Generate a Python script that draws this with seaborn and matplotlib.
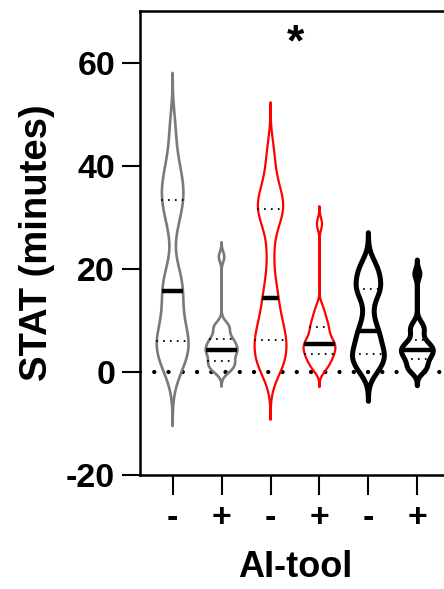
import numpy as np
import pandas as pd
import matplotlib
matplotlib.use("Agg")
import matplotlib.pyplot as plt
import seaborn as sns

# ---------------- data ----------------
categories = ["Gray -", "Gray +", "Red -", "Red +", "Black -", "Black +"]
tick_labels = ["-", "+", "-", "+", "-", "+"]

gray_minus = [0, 1.5, 3, 4, 5, 5.6, 6.2, 7.5, 9, 11, 13, 15,
              16.4, 18, 19.5, 28, 31, 33, 34, 35.5, 37, 39, 42, 47.5]
gray_plus = [0, 0.5, 1, 1.5, 2, 2.2, 3, 3.5, 4, 4.2, 4.4, 5, 5.5, 6, 6.2,
             7, 8, 8.7, 9.3, 22.3]
red_minus = [0, 1, 2, 3, 4, 5, 6.5, 7, 8, 9.5, 11, 13.5, 15,
             18, 23, 28, 30, 31.4, 32, 33, 34, 36, 39, 43]
red_plus = [0.5, 1, 2, 2.5, 3, 3.5, 4, 4.5, 5, 5.2, 5.8, 6, 7, 7.5, 8.5,
            9, 10, 11, 12.5, 28.7]
black_minus = [0, 0.5, 1.5, 2, 2.8, 3.2, 3.5, 4.2, 5, 6, 7, 7.5,
               8.3, 10, 12, 14.5, 15.5, 16, 16.5, 17.5, 18.5, 19.3, 20.2, 21.3]
black_plus = [0, 0.5, 1, 1.5, 2.2, 2.6, 3, 3.5, 3.8, 4, 4.4, 4.8, 5, 5.5,
              6, 7, 8, 8.5, 9.5, 19]

group_values = [gray_minus, gray_plus, red_minus, red_plus, black_minus, black_plus]

yticks = [-20, 0, 20, 40, 60]

# ---------------- style ----------------
colors = ["#7a7a7a", "#7a7a7a", "#ff0000", "#ff0000", "#000000", "#000000"]
outline_lw = [1.9, 1.9, 1.6, 1.6, 3.6, 3.6]
target_bw = [3.5, 0.95, 3.1, 1.15, 1.9, 0.9]

sns.set_theme(style="ticks")
plt.rcParams["font.family"] = ["Liberation Sans", "DejaVu Sans"]
plt.rcParams["font.weight"] = "bold"
plt.rcParams["axes.unicode_minus"] = False

df = pd.DataFrame({
    "group": np.concatenate([[c] * len(v) for c, v in zip(categories, group_values)]),
    "value": np.concatenate([np.asarray(v, float) for v in group_values]),
})

fig = plt.figure(figsize=(4.44, 5.89), dpi=100)
ax = fig.add_axes([140 / 444, 1 - 475 / 589, 310 / 444, 464 / 589])

ax.axhline(0, color="black", lw=3.1, ls=(0, (0.01, 3.3)),
           dash_capstyle="round", zorder=1)

for i, cat in enumerate(categories):
    sub = df[df["group"] == cat]
    vals = sub["value"].to_numpy()
    scott = len(vals) ** (-1 / 5) * vals.std(ddof=1)
    adj = target_bw[i] / scott
    n_before = len(ax.lines)
    sns.violinplot(data=sub, x="group", y="value", order=categories,
                   color=colors[i], fill=False, linewidth=outline_lw[i],
                   inner="quart", inner_kws=dict(color="black"),
                   density_norm="width", width=0.65, cut=3,
                   bw_adjust=adj, ax=ax, zorder=2)
    new_lines = ax.lines[n_before:]
    ys = [np.mean(l.get_ydata()) for l in new_lines]
    order = np.argsort(ys)
    for k, idx in enumerate(order):
        ln = new_lines[idx]
        ln.set_color("black")
        if k == 1:
            ln.set_linestyle("-")
            ln.set_linewidth(3.2)
            ln.set_solid_capstyle("butt")
        else:
            ln.set_linestyle((0, (0.01, 3.3)))
            ln.set_dash_capstyle("round")
            ln.set_linewidth(1.5)

ax.set_xlim(-0.667, 5.667)
ax.set_ylim(-20, 70)
ax.set_yticks(yticks)
ax.set_xticks(range(len(categories)))
ax.set_xticklabels(tick_labels)

for s in ["left", "bottom", "top", "right"]:
    ax.spines[s].set_linewidth(1.8)
    ax.spines[s].set_color("black")

ax.tick_params(axis="y", length=13, width=1.5, labelsize=24.5, pad=5,
               color="black", labelcolor="black")
ax.tick_params(axis="x", length=14.5, width=1.5, labelsize=24.5, pad=6,
               color="black", labelcolor="black")
for t in ax.get_xticklabels() + ax.get_yticklabels():
    t.set_fontweight("bold")

ax.set_ylabel("STAT (minutes)", fontsize=27.5, fontweight="bold", color="black")
ax.set_xlabel("AI-tool", fontsize=26, fontweight="bold", color="black")
ax.yaxis.set_label_coords(-0.275, 0.5)
ax.xaxis.set_label_coords(0.5, -0.162)

ax.text(2.5, 61.3, "*", ha="center", va="baseline", fontsize=32,
        fontweight="bold", color="black")

ax.grid(False)
fig.savefig("out.png", dpi=100)
